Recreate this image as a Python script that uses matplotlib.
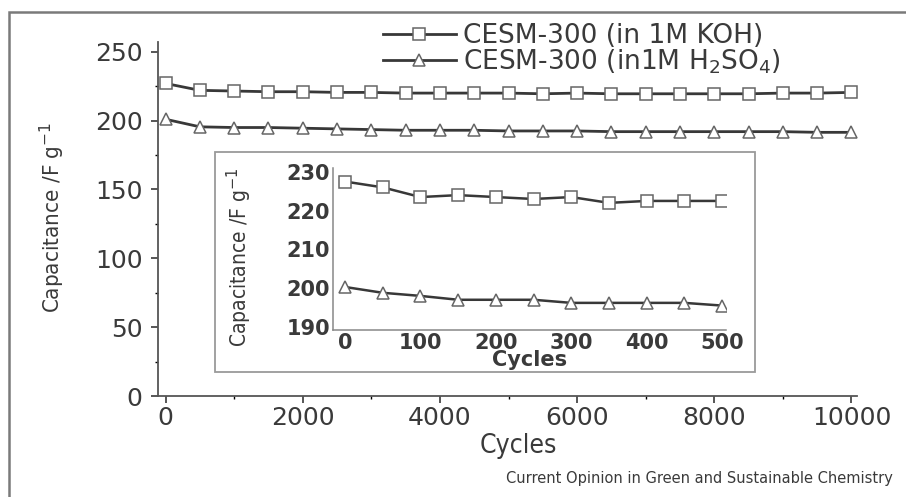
import numpy as np
import matplotlib.pyplot as plt
from matplotlib.patches import Rectangle

plt.rcParams['font.family'] = ['DejaVu Sans']

# main plot data (every 500 cycles)
cycles = np.arange(0, 10001, 500)
koh = [227, 222, 221.5, 221, 221, 220.5, 220.5, 220, 220, 220, 220, 219.5,
       220, 219.5, 219.5, 219.5, 219.5, 219.5, 220, 220, 220.5]
h2so4 = [201, 195.5, 195, 195, 194.5, 194, 193.5, 193, 193, 193, 192.5, 192.5,
         192.5, 192, 192, 192, 192, 192, 192, 191.5, 191.5]

# inset data (first 500 cycles)
in_cycles = np.arange(0, 501, 50)
in_koh = [227.5, 226, 223.5, 224, 223.5, 223, 223.5, 222, 222.5, 222.5, 222.5]
in_h2so4 = [200.3, 198.8, 198, 197, 197, 197, 196.2, 196.2, 196.2, 196.2, 195.5]

txt_c = '#3a3a3a'
line_c = '#383838'
mk = dict(markerfacecolor='white', markeredgecolor='#666666', markeredgewidth=1.1)

fig = plt.figure(figsize=(9.06, 4.97), dpi=100)

# outer frame
fig.patches.append(Rectangle((0.010, -0.1), 1.2, 1.076, transform=fig.transFigure,
                             fill=False, edgecolor='#7a7a7a', linewidth=1.8))

ax = fig.add_axes([0.1744, 0.2032, 0.772, 0.712])
ax.plot(cycles, koh, '-s', color=line_c, lw=2, ms=8, label='CESM-300 (in 1M KOH)', **mk)
ax.plot(cycles, h2so4, '-^', color=line_c, lw=2, ms=9,
        label='CESM-300 (in1M H$_2$SO$_4$)', **mk)
ax.set_xlim(-110, 10087)
ax.set_ylim(0, 257)
ax.set_xticks(np.arange(0, 10001, 2000))
ax.set_xticks(np.arange(0, 10001, 1000), minor=True)
ax.set_yticks(np.arange(0, 251, 50))
ax.set_yticks(np.arange(0, 251, 25), minor=True)
for s in ['top', 'right']:
    ax.spines[s].set_visible(False)
for s in ['left', 'bottom']:
    ax.spines[s].set_color('#555555')
    ax.spines[s].set_linewidth(1.3)
ax.tick_params(labelsize=18, colors=txt_c, length=5, width=1.2)
ax.tick_params(axis='x', pad=2)
ax.tick_params(axis='y', pad=6)
ax.tick_params(which='minor', length=2.5, width=1)
ax.set_xlabel('Cycles', fontsize=19, color=txt_c, fontstretch='condensed')
ax.xaxis.set_label_coords(0.515, -0.105)
ax.set_ylabel('Capacitance /F g$^{-1}$', fontsize=16, color=txt_c, fontstretch='condensed')
ax.yaxis.set_label_coords(-0.13, 0.505)
ax.legend(loc='upper left', bbox_to_anchor=(383 / 906, 1 - 23 / 497),
          bbox_transform=fig.transFigure, frameon=False, fontsize=19,
          borderaxespad=0, borderpad=0, handlelength=2.75, handletextpad=0.3,
          labelspacing=-0.05, labelcolor=txt_c)

# inset frame
fig.patches.append(Rectangle((215 / 906, 1 - 372 / 497), 540 / 906, 220 / 497,
                             transform=fig.transFigure, fill=False,
                             edgecolor='#9a9a9a', linewidth=1.3))

ins = fig.add_axes([0.3675, 0.336, 0.4338, 0.326])
ins.plot(in_cycles, in_koh, '-s', color=line_c, lw=1.8, ms=8, **mk)
ins.plot(in_cycles, in_h2so4, '-^', color=line_c, lw=1.8, ms=9, **mk)
ins.set_xlim(-16, 505)
ins.set_ylim(189.2, 231)
ins.set_xticks(np.arange(0, 501, 100))
ins.set_yticks(np.arange(190, 231, 10))
for s in ['top', 'right']:
    ins.spines[s].set_visible(False)
for s in ['left', 'bottom']:
    ins.spines[s].set_color('#888888')
    ins.spines[s].set_linewidth(1.1)
ins.tick_params(labelsize=15, colors=txt_c, length=0, pad=2)
for lab in ins.get_xticklabels() + ins.get_yticklabels():
    lab.set_fontweight('bold')
ins.set_xlabel('Cycles', fontsize=15, color=txt_c, fontweight='bold')
ins.xaxis.set_label_coords(0.5, -0.125)
ins.set_ylabel('Capacitance /F g$^{-1}$', fontsize=15, color=txt_c, fontstretch='condensed')
ins.yaxis.set_label_coords(-0.2, 0.45)

fig.text(0.986, 0.038, 'Current Opinion in Green and Sustainable Chemistry',
         ha='right', va='center', fontsize=10.5, color=txt_c)

fig.savefig('out.png', dpi=100)
